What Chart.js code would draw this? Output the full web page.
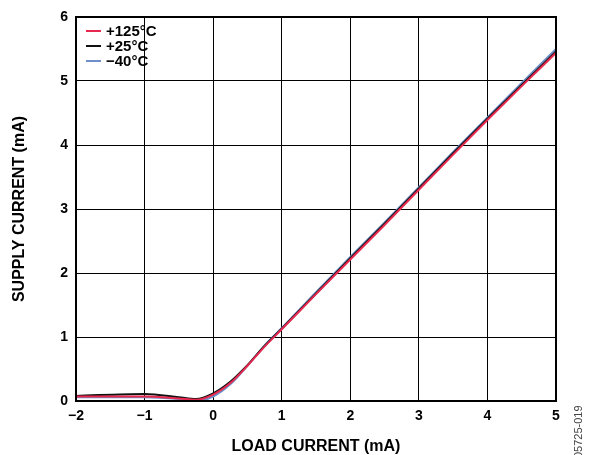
<!DOCTYPE html>
<html>
<head>
<meta charset="utf-8">
<script src="https://cdn.jsdelivr.net/npm/chart.js@4"></script>
<style>
  html, body { margin: 0; padding: 0; background: #fff; }
  #wrap { width: 592px; height: 455px; }
</style>
</head>
<body>
<div id="wrap"><canvas id="c" width="592" height="455"></canvas></div>
<script>
// load current (mA) sample points
const loadCurrent = [-2, -1, -0.5, -0.25, 0, 0.25, 0.5, 0.75, 1, 1.5, 2, 2.5, 3, 3.5, 4, 4.5, 5];

// supply current (mA) per temperature
const hot125 = [0.07, 0.07, 0.04, 0.02, 0.10, 0.28, 0.55, 0.85, 1.12, 1.67, 2.21, 2.75, 3.30, 3.85, 4.39, 4.92, 5.44];
const room25 = [0.08, 0.11, 0.06, 0.03, 0.12, 0.30, 0.56, 0.86, 1.13, 1.68, 2.23, 2.77, 3.32, 3.87, 4.41, 4.94, 5.46];
const cold40 = [0.06, 0.06, 0.03, 0.00, 0.07, 0.26, 0.55, 0.87, 1.14, 1.70, 2.25, 2.79, 3.34, 3.89, 4.43, 4.97, 5.50];

const seriesNames = ['+125°C', '+25°C', '\u221240°C'];
const seriesColors = ['#e8294f', '#111111', '#6f8fc8'];

const xTicks = [-2, -1, 0, 1, 2, 3, 4, 5];
const yTicks = [0, 1, 2, 3, 4, 5, 6];

const family = 'Liberation Sans, Arial, sans-serif';
const tickFont = { family, weight: 'bold', size: 14 };
const titleFont = { family, weight: 'bold', size: 16, lineHeight: 1 };

function toPoints(ys) {
  return loadCurrent.map((x, i) => ({ x, y: ys[i] }));
}

const minus = v => (v < 0 ? '\u2212' + Math.abs(v) : String(v));

// legend + frame + figure number drawn by hand
const extras = {
  id: 'extras',
  afterDraw(chart) {
    const ctx = chart.ctx;
    const a = chart.chartArea;
    ctx.save();
    ctx.strokeStyle = '#000';
    ctx.lineWidth = 2;
    ctx.strokeRect(a.left, a.top, a.right - a.left, a.bottom - a.top);

    ctx.font = 'bold 15px ' + family;
    ctx.textBaseline = 'middle';
    seriesNames.forEach((name, i) => {
      const y = 31 + i * 15;
      ctx.strokeStyle = seriesColors[i];
      ctx.lineWidth = 2;
      ctx.beginPath();
      ctx.moveTo(86, y);
      ctx.lineTo(101, y);
      ctx.stroke();
      ctx.fillStyle = '#000';
      ctx.fillText(name, 106, y + 1);
    });

    ctx.translate(579, 458);
    ctx.rotate(-Math.PI / 2);
    ctx.font = '11px ' + family;
    ctx.fillStyle = '#444';
    ctx.textBaseline = 'middle';
    ctx.fillText('05725-019', 0, 0);
    ctx.restore();
  }
};

new Chart(document.getElementById('c'), {
  type: 'scatter',
  data: {
    datasets: [hot125, room25, cold40].map((ys, i) => ({
      label: seriesNames[i],
      data: toPoints(ys),
      showLine: true,
      borderColor: seriesColors[i],
      backgroundColor: seriesColors[i],
      borderWidth: 2,
      pointRadius: 0,
      tension: 0.35,
      cubicInterpolationMode: 'monotone'
    }))
  },
  options: {
    responsive: false,
    animation: false,
    layout: { padding: { left: 0, top: 17, right: 36, bottom: 0 } },
    plugins: { legend: { display: false }, tooltip: { enabled: false } },
    scales: {
      x: {
        type: 'linear',
        min: -2,
        max: 5,
        afterBuildTicks: s => { s.ticks = xTicks.map(v => ({ value: v })); },
        afterFit: s => { s.height = 54; },
        grid: { color: '#000', lineWidth: 1, drawTicks: false },
        border: { display: false },
        ticks: { color: '#000', font: tickFont, padding: 7, callback: minus },
        title: { display: true, text: 'LOAD CURRENT (mA)', color: '#000', font: titleFont, padding: { top: 10, bottom: 0 } }
      },
      y: {
        min: 0,
        max: 6,
        afterBuildTicks: s => { s.ticks = yTicks.map(v => ({ value: v })); },
        afterFit: s => { s.width = 76; },
        grid: { color: '#000', lineWidth: 1, drawTicks: false },
        border: { display: false },
        ticks: { color: '#000', font: tickFont, padding: 8 },
        title: { display: true, text: 'SUPPLY CURRENT (mA)', color: '#000', font: titleFont, padding: { top: 12, bottom: 0 } }
      }
    }
  },
  plugins: [extras]
});
</script>
</body>
</html>
